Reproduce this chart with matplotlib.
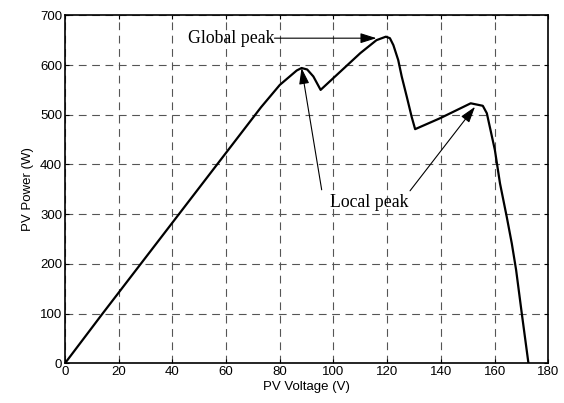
import matplotlib
matplotlib.use("Agg")
import matplotlib.pyplot as plt

# PV curve
voltage = [0, 14, 73, 80, 86.3, 88.1, 90.2, 92.5, 95.2, 110, 116, 119.5, 121, 122.3,
           124.1, 125.4, 127.3, 129.1, 130.4, 139.7, 151.1, 155.6, 157.1, 160.1,
           162, 164.5, 166.4, 168, 170.1, 172.6]
power = [0, 100, 515, 560, 589, 594, 591, 577, 550, 624, 650, 657, 654, 640,
         610, 577, 536, 496, 471, 493, 523, 518, 503, 429,
         362, 295, 241, 188, 101, 0]

xticks = list(range(0, 181, 20))
yticks = list(range(0, 701, 100))

fig = plt.figure(figsize=(5.64, 4.03), dpi=100)
ax = fig.add_axes([0.1152, 0.0985, 0.857, 0.8635])

ax.plot(voltage, power, color='black', lw=1.6)

ax.set_xlim(0, 180)
ax.set_ylim(0, 700)
ax.set_xticks(xticks)
ax.set_yticks(yticks)
ax.grid(True, color='#555555', linestyle=(0, (7, 5)), lw=0.8)
ax.tick_params(direction='in', length=3, top=True, right=True, labelsize=9.5, pad=2)
for lab in ax.get_xticklabels() + ax.get_yticklabels():
    lab.set_family('Liberation Sans')
for s in ax.spines.values():
    s.set_linewidth(1.2)

ax.set_xlabel('PV Voltage (V)', family='Liberation Sans', fontsize=9.5, labelpad=2)
ax.set_ylabel('PV Power (W)', family='Liberation Sans', fontsize=9.5, labelpad=4)

serif = dict(family='Liberation Serif', fontsize=12.8)
arrow = dict(arrowstyle='-|>,head_length=0.7,head_width=0.22', color='black', lw=0.8,
             mutation_scale=14, shrinkA=0, shrinkB=0)

# global peak label
ax.text(45.7, 654, 'Global peak', ha='left', va='center', **serif)
ax.annotate('', xy=(116, 654), xytext=(78.0, 654), arrowprops=arrow)

# local peak label
ax.text(98.7, 323, 'Local peak', ha='left', va='center', **serif)
ax.annotate('', xy=(88.1, 594), xytext=(95.6, 349), arrowprops=arrow)
ax.annotate('', xy=(152.7, 516), xytext=(128.5, 347), arrowprops=arrow)

fig.savefig('out.png', dpi=100)
